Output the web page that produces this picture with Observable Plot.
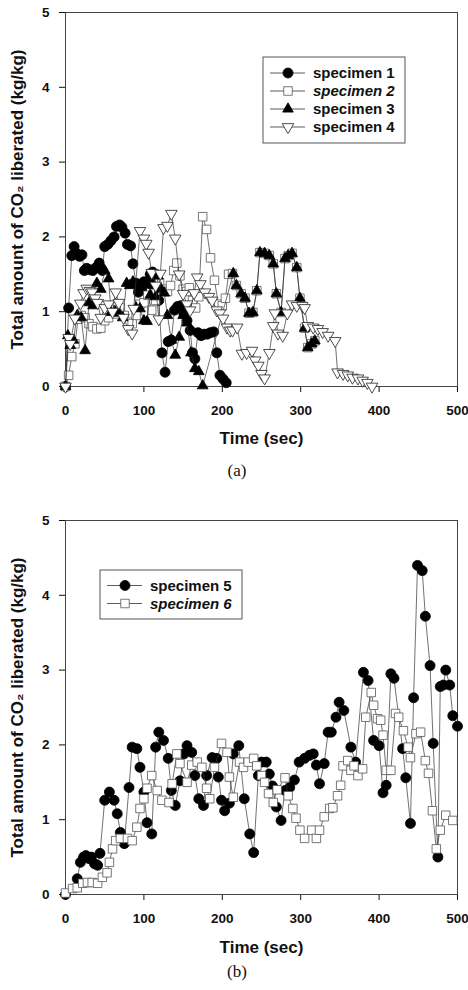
<!DOCTYPE html>
<html><head><meta charset="utf-8">
<script src="https://cdn.jsdelivr.net/npm/d3@7"></script>
<script src="https://cdn.jsdelivr.net/npm/@observablehq/plot@0.6"></script>
<style>
body{margin:0;background:#fff;}
#wrap{position:relative;width:468px;height:990px;background:#fff;overflow:hidden;}
.panel{position:absolute;left:0;}
.cap{position:absolute;width:60px;text-align:center;font-family:"Liberation Serif","Times New Roman",serif;font-size:17px;line-height:18px;color:#111;}
#overlay{position:absolute;left:0;top:0;pointer-events:none;}
</style></head><body><div id="wrap"></div>
<script>
// ---------- data: panel (a) ----------
const timeA1 = [0,4,8,11,14,18,21,24,27,31,35,39,43,47,50,54,58,62,65,69,72,76,79,83,86,90,93,97,100,104,108,111,115,119,123,127,131,135,139,143,147,151,155,159,162,165,169,173,177,181,185,189,193,197,201,205];
const valueA1 = [0,1.05,1.75,1.87,1.78,1.74,1.76,1.55,1.58,1.56,1.55,1.59,1.65,1.55,1.87,1.90,1.95,2.00,2.14,2.16,2.13,2.05,1.90,1.88,1.64,1.38,1.26,1.29,1.40,1.38,1.50,1.53,1.45,1.15,0.45,0.19,0.60,0.62,1.02,1.07,1.08,0.97,0.88,0.75,0.45,0.37,0.72,0.68,0.70,0.70,0.72,0.73,0.45,0.15,0.10,0.05];

const timeA2 = [0,4,8,12,16,20,25,30,35,40,45,50,55,60,65,70,75,80,85,90,95,100,105,110,115,120,125,130,134,138,142,146,150,154,158,162,166,170,175,180,185,190,195,200,204,208,213,218,224,229,234,239,244,248,254,260,265,269,275,280,284,289,295,299,305,309,314,318];
const valueA2 = [0,0.15,0.40,0.57,0.90,0.95,0.92,0.84,0.80,0.77,0.78,0.88,0.92,1.02,0.97,1.05,0.95,0.86,0.84,0.95,1.10,1.12,1.22,1.02,1.15,1.38,1.30,1.27,1.35,1.55,1.65,1.48,1.30,1.27,1.32,1.15,1.05,1.20,2.27,2.10,1.72,1.42,1.10,1.08,1.18,1.50,1.51,1.35,1.24,1.18,0.98,0.99,1.28,1.79,1.78,1.75,1.64,1.24,0.99,1.71,1.75,1.78,1.59,1.18,0.78,0.52,0.57,0.61];

const timeA3 = [0,3,6,10,15,20,25,30,35,40,45,50,55,58,63,68,73,78,82,86,90,95,100,104,108,112,115,118,122,126,130,135,140,145,150,155,160,165,170,175,214,218,224,229,234,239,244,248,254,260,265,269,275,280,284,289,295,299,305,309,314,318];
const valueA3 = [0,0.68,0.55,0.62,0.95,0.92,0.48,1.12,1.08,1.38,1.30,1.55,1.44,0.99,1.00,0.98,0.92,1.38,1.35,1.40,1.05,1.04,0.88,0.87,1.22,1.35,1.20,1.48,1.30,1.25,0.95,0.62,0.42,0.66,0.95,0.85,0.45,0.24,0.20,0.01,1.51,1.35,1.24,1.18,0.98,0.99,1.28,1.79,1.78,1.75,1.64,1.24,0.99,1.71,1.75,1.78,1.59,1.18,0.78,0.52,0.57,0.61];

const timeA4 = [0,4,6,12,19,23,27,31,34,38,41,45,50,55,60,64,68,74,80,85,87,95,100,103,106,110,115,119,121,125,130,135,140,145,150,155,159,164,168,172,178,183,187,193,197,201,206,210,213,219,225,231,238,242,246,250,254,260,265,267,271,277,283,289,295,302,305,309,316,322,328,335,344,347,354,360,366,373,379,385,391];
const valueA4 = [0,0.65,0.57,0.91,1.11,1.25,1.31,1.28,1.26,1.18,1.12,0.92,1.05,1.10,1.00,1.26,1.12,0.92,0.77,0.71,1.04,2.08,1.98,1.91,1.79,1.52,1.35,0.90,1.51,2.12,2.15,2.31,1.98,1.50,1.24,1.10,1.02,1.25,1.46,1.37,1.26,1.20,1.15,1.02,0.98,0.91,0.79,0.75,0.75,0.79,0.44,0.45,0.48,0.35,0.28,0.17,0.11,0.45,0.81,0.98,0.71,0.68,0.98,1.10,1.08,1.08,1.05,0.81,0.79,0.77,0.73,0.68,0.61,0.19,0.17,0.15,0.12,0.11,0.08,0.05,0.0];

// ---------- data: panel (b) ----------
const timeB5 = [0,15,19,23,26,30,33,37,41,44,50,56,62,66,70,75,81,85,91,95,100,104,110,115,119,125,131,135,140,146,151,155,161,165,170,176,180,187,193,195,199,203,209,214,221,228,235,240,246,250,256,260,264,269,275,280,286,292,298,305,311,316,320,324,330,335,339,345,349,355,364,370,380,386,393,400,405,409,415,419,430,434,440,444,449,455,459,465,469,475,478,482,485,490,494,500];
const valueB5 = [0,0.21,0.43,0.50,0.52,0.48,0.50,0.41,0.39,0.55,1.26,1.37,1.26,1.08,0.83,0.68,1.43,1.97,1.95,1.70,1.37,0.96,0.81,1.97,2.17,2.06,1.82,1.39,1.19,1.52,1.88,1.99,1.90,1.59,1.28,1.19,1.59,1.83,1.82,1.57,1.26,1.12,1.22,1.88,1.99,1.28,0.81,0.56,1.59,1.77,1.77,1.61,1.45,1.17,0.99,1.39,1.43,1.53,1.77,1.82,1.86,1.88,1.73,1.48,1.75,2.17,2.17,2.37,2.57,2.46,1.97,1.77,2.97,2.86,2.06,1.99,1.36,1.46,2.95,2.89,1.95,1.56,0.95,2.63,4.40,4.33,3.72,3.06,2.02,0.50,2.78,2.80,3.00,2.80,2.39,2.25];

const timeB6 = [0,9,15,22,28,34,41,47,53,56,60,64,70,79,85,91,95,100,104,110,117,123,132,136,142,146,155,161,168,174,180,184,190,199,206,209,214,222,227,233,240,244,250,254,259,265,270,280,284,290,294,299,305,314,320,324,330,337,341,347,351,354,360,364,368,373,379,383,390,393,398,402,405,409,415,421,425,431,437,440,447,453,459,463,468,473,478,485,494];
const valueB6 = [0.02,0.08,0.09,0.15,0.16,0.16,0.15,0.23,0.29,0.43,0.61,0.72,0.75,0.75,0.72,0.90,1.15,1.28,1.42,1.59,1.39,1.26,1.23,1.48,1.88,1.75,1.50,1.73,1.77,1.70,1.42,1.28,1.70,2.02,1.90,1.57,1.30,1.77,1.70,1.77,1.82,1.72,1.59,1.50,1.35,1.23,1.40,1.56,1.32,1.15,1.02,0.86,0.75,0.86,0.75,0.86,1.04,1.15,1.16,1.32,1.46,1.72,1.79,1.66,1.72,1.59,1.68,2.37,2.70,2.53,2.35,2.33,2.13,1.66,1.66,2.42,2.37,2.19,1.97,1.83,2.15,2.17,1.79,1.62,1.12,0.61,0.86,1.06,0.99];

// ---------- labels ----------
const xTicks = [0,100,200,300,400,500];
const yTicks = [0,1,2,3,4,5];
const xTitle = "Time (sec)";
const yTitle = "Total amount of CO\u2082 liberated (kg/kg)";
const legendA = ["specimen 1","specimen 2","specimen 3","specimen 4"];
const legendB = ["specimen 5","specimen 6"];
const captions = ["(a)","(b)"];

// ---------- rendering ----------
const rows = (t, v) => t.map((x, i) => ({t: x, v: v[i]}));
const downTriangle = {
  draw(ctx, size) {
    const y = -Math.sqrt(size / (Math.sqrt(3) * 3));
    ctx.moveTo(0, -y * 2);
    ctx.lineTo(-Math.sqrt(3) * y, y);
    ctx.lineTo(Math.sqrt(3) * y, y);
    ctx.closePath();
  }
};
const STY = {
  circle: {symbol: "circle", d3: d3.symbolCircle, r: 5, fill: "#000", stroke: "#000"},
  square: {symbol: "square", d3: d3.symbolSquare, r: 4.8, fill: "#fff", stroke: "#555"},
  tri: {symbol: "triangle", d3: d3.symbolTriangle, r: 4, fill: "#000", stroke: "#000"},
  down: {symbol: downTriangle, d3: downTriangle, r: 4.3, fill: "#fff", stroke: "#222"}
};
const FONT = "'Liberation Sans', Arial, Helvetica, sans-serif";
const intFmt = d3.format("d");

function panel({series, height, marginTop, marginBottom, xDy}) {
  const marks = [Plot.frame({stroke: "#444", strokeWidth: 1})];
  for (const s of series) {
    marks.push(Plot.line(s.data, {x: "t", y: "v", stroke: "#333", strokeWidth: 0.7}));
    marks.push(Plot.dot(s.data, {x: "t", y: "v", symbol: s.sty.symbol, r: s.sty.r, fill: s.sty.fill, stroke: s.sty.stroke, strokeWidth: 0.8}));
  }
  marks.push(Plot.text([yTitle], {frameAnchor: "left", dx: -48, rotate: -90, text: d => d, textAnchor: "middle", lineAnchor: "middle", fontSize: 17, fontWeight: "bold", fill: "#111"}));
  marks.push(Plot.text([xTitle], {frameAnchor: "bottom", dy: xDy, text: d => d, textAnchor: "middle", lineAnchor: "middle", fontSize: 17, fontWeight: "bold", fill: "#111"}));
  return Plot.plot({
    width: 468, height, marginLeft: 65, marginRight: 11, marginTop, marginBottom,
    style: {fontFamily: FONT, fontSize: "13.5px", fontWeight: "bold", color: "#111", background: "transparent", overflow: "visible"},
    x: {domain: [0, 500], ticks: xTicks, tickFormat: intFmt, tickSize: 6, tickPadding: 13, label: null},
    y: {domain: [0, 5], ticks: yTicks, tickFormat: intFmt, tickSize: 6, tickPadding: 10, label: null},
    marks
  });
}

const wrap = document.getElementById("wrap");
const pa = panel({
  series: [
    {data: rows(timeA1, valueA1), sty: STY.circle},
    {data: rows(timeA2, valueA2), sty: STY.square},
    {data: rows(timeA3, valueA3), sty: STY.tri},
    {data: rows(timeA4, valueA4), sty: STY.down}
  ],
  height: 460, marginTop: 12, marginBottom: 74, xDy: 52
});
pa.classList.add("panel"); pa.style.top = "0px";
wrap.appendChild(pa);

const pb = panel({
  series: [
    {data: rows(timeB5, valueB5), sty: STY.circle},
    {data: rows(timeB6, valueB6), sty: STY.square}
  ],
  height: 464, marginTop: 30, marginBottom: 60, xDy: 53
});
pb.classList.add("panel"); pb.style.top = "490px";
wrap.appendChild(pb);

// captions
[[captions[0], 237, 462], [captions[1], 237, 963]].forEach(([txt, cx, top]) => {
  const d = document.createElement("div");
  d.className = "cap"; d.textContent = txt;
  d.style.left = (cx - 30) + "px"; d.style.top = top + "px";
  wrap.appendChild(d);
});

// legends
const ov = d3.select(wrap).append("svg").attr("id", "overlay").attr("width", 468).attr("height", 990);
function legend(x, y, w, h, names, stys, italics) {
  const g = ov.append("g");
  g.append("rect").attr("x", x).attr("y", y).attr("width", w).attr("height", h)
    .attr("fill", "#fff").attr("stroke", "#444").attr("stroke-width", 0.9);
  const rowH = 18, first = y + (h - rowH * (names.length - 1)) / 2;
  names.forEach((n, i) => {
    const cy = first + i * rowH;
    const s = stys[i];
    g.append("line").attr("x1", x + 7).attr("x2", x + 42).attr("y1", cy).attr("y2", cy)
      .attr("stroke", "#333").attr("stroke-width", 0.8);
    g.append("path").attr("transform", `translate(${x + 25},${cy})`)
      .attr("d", d3.symbol(s.d3, s.r * s.r * Math.PI)())
      .attr("fill", s.fill).attr("stroke", s.stroke).attr("stroke-width", 0.8);
    g.append("text").attr("x", x + 50).attr("y", cy).attr("dy", "0.35em")
      .attr("font-family", FONT).attr("font-size", 15).attr("font-weight", "bold")
      .attr("font-style", italics[i] ? "italic" : "normal").attr("fill", "#111").text(n);
  });
}
legend(263, 57, 142, 86, legendA, [STY.circle, STY.square, STY.tri, STY.down], [false, true, false, false]);
legend(100, 570, 142, 49, legendB, [STY.circle, STY.square], [false, true]);
</script></body></html>
